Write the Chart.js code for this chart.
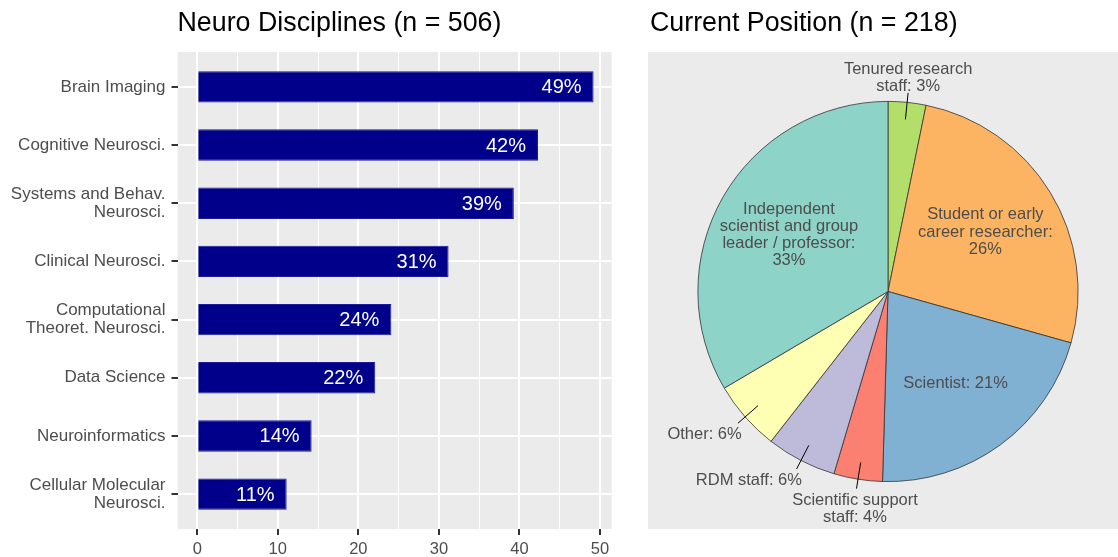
<!DOCTYPE html>
<html lang="en">
<head>
<meta charset="UTF-8">
<title>Neuro Disciplines / Current Position</title>
<script src="https://cdn.jsdelivr.net/npm/chart.js"></script>
<style>
  html, body { margin: 0; padding: 0; background: #fff; }
  body { width: 1118px; height: 557px; position: relative; overflow: hidden; }
  #barWrap { position: absolute; left: 0; top: 0; width: 640px; height: 557px; }
  #pieWrap { position: absolute; left: 648px; top: 0; width: 470px; height: 557px; }
</style>
</head>
<body>
<div id="barWrap"><canvas id="barChart"></canvas></div>
<div id="pieWrap"><canvas id="pieChart"></canvas></div>
<script>
// bar chart data (percent of n = 506)
const disciplines = ['Brain Imaging', 'Cognitive Neurosci.', 'Systems and Behav. Neurosci.', 'Clinical Neurosci.',
    'Computational Theoret. Neurosci.', 'Data Science', 'Neuroinformatics', 'Cellular Molecular Neurosci.'];
const disciplinePct = [49.2, 42.3, 39.3, 31.2, 24.1, 22.1, 14.2, 11.1];
const xTicks = [0, 10, 20, 30, 40, 50];

// pie data (counts of n = 218), clockwise from 12 o'clock
const positions = ['Tenured research staff', 'Student or early career researcher', 'Scientist',
    'Scientific support staff', 'RDM staff', 'Other', 'Independent scientist and group leader / professor'];
const positionCounts = [7, 57, 46, 9, 13, 13, 73];
const positionColors = ['#B3DE69', '#FDB462', '#80B1D3', '#FB8072', '#BEBADA', '#FFFFB3', '#8DD3C7'];

const FONT = '"Liberation Sans", Arial, sans-serif';
Chart.defaults.font.family = FONT;
Chart.defaults.color = '#4D4D4D';
Chart.defaults.animation = false;

// wrap text like str_wrap(width = 20)
function wrap(text, width) {
    const lines = [];
    let cur = '';
    text.split(' ').forEach(w => {
        if (cur && (cur + ' ' + w).length > width) { lines.push(cur); cur = w; }
        else cur = cur ? cur + ' ' + w : w;
    });
    if (cur) lines.push(cur);
    return lines;
}

const panelBg = {
    id: 'panelBg',
    beforeDraw(chart, args, opts) {
        const { ctx, chartArea } = chart;
        ctx.save();
        ctx.fillStyle = '#EBEBEB';
        if (opts.full) ctx.fillRect(0, opts.top, chart.width, opts.bottom - opts.top);
        else ctx.fillRect(chartArea.left, chartArea.top, chartArea.width, chartArea.height);
        ctx.restore();
    }
};

const panelTitle = {
    id: 'panelTitle',
    afterDraw(chart, args, opts) {
        const ctx = chart.ctx;
        ctx.save();
        ctx.font = '26.8px ' + FONT;
        ctx.fillStyle = '#000';
        ctx.textAlign = 'left';
        ctx.textBaseline = 'middle';
        ctx.fillText(opts.text, opts.x === undefined ? chart.chartArea.left : opts.x, 24);
        ctx.restore();
    }
};

const barValueLabels = {
    id: 'barValueLabels',
    afterDatasetsDraw(chart) {
        const ctx = chart.ctx;
        ctx.save();
        ctx.font = '20px ' + FONT;
        ctx.fillStyle = '#fff';
        ctx.textAlign = 'right';
        ctx.textBaseline = 'middle';
        chart.getDatasetMeta(0).data.forEach((bar, i) => {
            ctx.fillText(Math.round(disciplinePct[i]) + '%', bar.x - 12, bar.y + 1);
        });
        ctx.restore();
    }
};

const pieLabels = {
    id: 'pieLabels',
    afterDatasetsDraw(chart) {
        const ctx = chart.ctx;
        const total = positionCounts.reduce((a, b) => a + b, 0);
        const lh = 17.3;
        ctx.save();
        ctx.font = '16.5px ' + FONT;
        ctx.fillStyle = '#4D4D4D';
        ctx.textAlign = 'center';
        ctx.textBaseline = 'middle';
        chart.getDatasetMeta(0).data.forEach((arc, i) => {
            const pct = positionCounts[i] / total * 100;
            const lines = wrap(positions[i] + ': ' + Math.round(pct) + '%', 20);
            const mid = (arc.startAngle + arc.endAngle) / 2;
            const cos = Math.cos(mid), sin = Math.sin(mid);
            const r = arc.outerRadius;
            let cx, cy;
            if (pct >= 10) {
                cx = arc.x + cos * r * 0.6;
                cy = arc.y + sin * r * 0.6;
            } else {
                const x1 = arc.x + cos * r * 0.91, y1 = arc.y + sin * r * 0.91;
                const x2 = arc.x + cos * r * 1.05, y2 = arc.y + sin * r * 1.05;
                ctx.strokeStyle = '#000';
                ctx.lineWidth = 1;
                ctx.beginPath();
                ctx.moveTo(x1, y1);
                ctx.lineTo(x2, y2);
                ctx.stroke();
                const w = Math.max(...lines.map(l => ctx.measureText(l).width));
                const h = lines.length * lh;
                const sx = Math.sign(cos) * Math.min(0.9, Math.max(0, Math.abs(cos) - 0.15) * 3);
                cx = x2 + sx * w / 2;
                cy = y2 + Math.sign(sin) * (h / 2 + (sin > 0 ? 3 : -2));
            }
            lines.forEach((l, k) => ctx.fillText(l, cx, cy + (k - (lines.length - 1) / 2) * lh));
        });
        ctx.restore();
    }
};

const minorTicks = xTicks.slice(1).map((v, i) => (v + xTicks[i]) / 2);
const allXTicks = xTicks.concat(minorTicks).sort((a, b) => a - b);

new Chart(document.getElementById('barChart'), {
    type: 'bar',
    data: {
        datasets: [{
            data: disciplinePct.map((v, i) => ({ x: v, y: i + 1 })),
            backgroundColor: '#00008B',
            borderColor: '#1a1a9a',
            borderWidth: 1,
            barPercentage: 0.54,
            categoryPercentage: 1
        }]
    },
    options: {
        indexAxis: 'y',
        responsive: true,
        maintainAspectRatio: false,
        layout: { padding: { top: 52, right: 28.3, left: 0, bottom: 0 } },
        scales: {
            x: {
                type: 'linear',
                min: -2.45,
                max: 51.45,
                afterBuildTicks: s => { s.ticks = allXTicks.map(v => ({ value: v })); },
                afterFit: s => { s.height = 28; },
                border: { display: false },
                grid: {
                    color: '#fff',
                    lineWidth: c => xTicks.includes(c.tick.value) ? 2 : 1,
                    tickColor: c => xTicks.includes(c.tick.value) ? '#333' : 'rgba(0,0,0,0)',
                    tickWidth: 2,
                    tickLength: 6
                },
                ticks: {
                    autoSkip: false,
                    maxRotation: 0,
                    padding: 5,
                    font: { size: 16.5 },
                    color: '#4D4D4D',
                    callback: v => xTicks.includes(v) ? String(v) : ''
                }
            },
            y: {
                type: 'linear',
                reverse: true,
                offset: false,
                min: 0.4,
                max: 8.6,
                afterBuildTicks: s => { s.ticks = disciplines.map((d, i) => ({ value: i + 1 })); },
                afterFit: s => { s.width = 177.5; },
                border: { display: false },
                grid: { offset: false, color: '#fff', lineWidth: 2, tickColor: '#333', tickWidth: 2, tickLength: 6 },
                ticks: {
                    padding: 6,
                    font: { size: 17, lineHeight: 1.07 },
                    color: '#4D4D4D',
                    callback: (v, i) => wrap(disciplines[i], 20)
                }
            }
        },
        plugins: {
            legend: { display: false },
            tooltip: { enabled: false },
            panelTitle: { text: 'Neuro Disciplines (n = 506)' }
        }
    },
    plugins: [panelBg, panelTitle, barValueLabels]
});

new Chart(document.getElementById('pieChart'), {
    type: 'pie',
    data: {
        labels: positions,
        datasets: [{
            data: positionCounts,
            backgroundColor: positionColors,
            borderColor: '#333',
            borderWidth: 0.8
        }]
    },
    options: {
        responsive: true,
        maintainAspectRatio: false,
        layout: { padding: { left: 49.5, right: 39.5, top: 101, bottom: 75 } },
        plugins: {
            legend: { display: false },
            tooltip: { enabled: false },
            panelBg: { full: true, top: 52, bottom: 529 },
            panelTitle: { text: 'Current Position (n = 218)', x: 2 }
        }
    },
    plugins: [panelBg, panelTitle, pieLabels]
});
</script>
</body>
</html>
